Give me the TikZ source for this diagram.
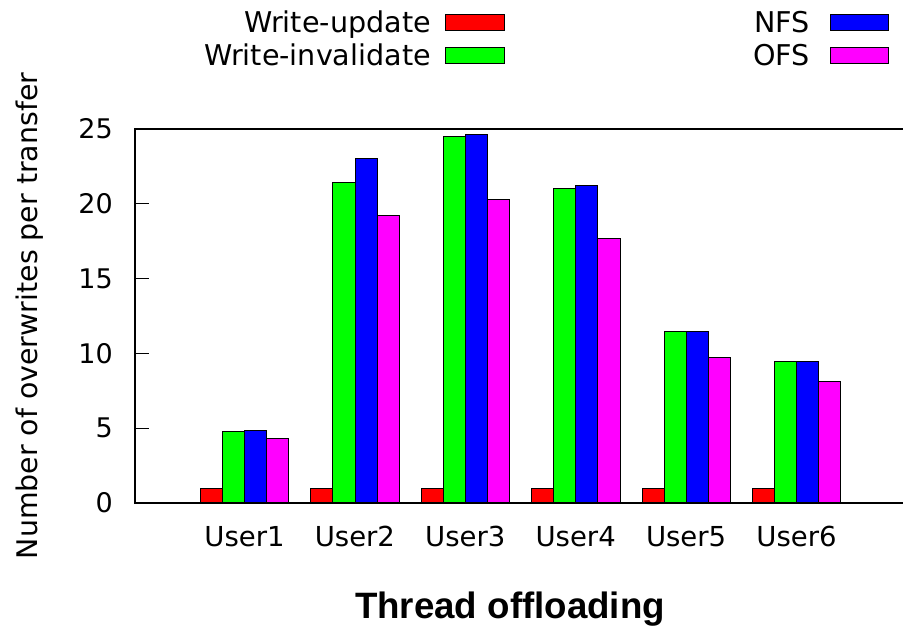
\documentclass[tikz,border=0pt]{standalone}
\usepackage{fontspec}
\setmainfont{DejaVu Sans}
\newfontfamily\titlefont{Liberation Sans}
\definecolor{gpred}{RGB}{255,0,0}
\definecolor{gpgreen}{RGB}{0,255,0}
\definecolor{gpblue}{RGB}{0,0,255}
\definecolor{gpmag}{RGB}{255,0,255}
\begin{document}
\begin{tikzpicture}[x=1pt,y=-1pt,
  lbl/.style={font=\fontsize{27}{32}\selectfont, inner sep=0pt, text=black},
  keylbl/.style={font=\fontsize{28.6}{34}\selectfont, inner sep=0pt, text=black},
  ulbl/.style={font=\fontsize{27.5}{33}\selectfont, inner sep=0pt, text=black},
  ylbl/.style={font=\fontsize{28.4}{34}\selectfont, inner sep=0pt, text=black},
  ttl/.style={font=\titlefont\bfseries\fontsize{36.7}{40}\selectfont, inner sep=0pt},
  bar/.style={draw=black, line width=1pt},
  axisline/.style={draw=black, line width=1.3pt},
  keybox/.style={draw=black, line width=1pt}]
\useasboundingbox (0,0) rectangle (903,631);
\fill[white] (0,0) rectangle (903,631);
% frame
\draw[axisline] (903,129) -- (135,129) -- (135,503) -- (903,503);
\foreach \v in {5,10,15,20} {
  \draw[axisline] (135,{503-14.96*\v}) -- (149,{503-14.96*\v});
}
% y tick labels
\foreach \v/\nm in {0/t0,5/t5,10/t10,15/t15,20/t20,25/t25} {
  \node[lbl, anchor=east] (\nm) at (113,{503-14.96*\v}) {\v};
}
% bars
\foreach \i/\a/\b/\c/\d in {0/1/4.8/4.84/4.31, 1/1/21.4/23.0/19.25, 2/1/24.53/24.6/20.31,
                            3/1/21.05/21.25/17.69, 4/1/11.49/11.49/9.71, 5/1/9.45/9.45/8.15} {
  \pgfmathsetmacro{\xo}{200.5+110.4*\i}
  \filldraw[bar, fill=gpred]   ({\xo},503) rectangle ({\xo+22.08},{503-14.96*\a});
  \filldraw[bar, fill=gpgreen] ({\xo+22.08},503) rectangle ({\xo+44.16},{503-14.96*\b});
  \filldraw[bar, fill=gpblue]  ({\xo+44.16},503) rectangle ({\xo+66.24},{503-14.96*\c});
  \filldraw[bar, fill=gpmag]   ({\xo+66.24},503) rectangle ({\xo+88.32},{503-14.96*\d});
}
\draw[axisline] (135,503) -- (903,503);
% x tick labels
\foreach \i in {0,...,5} {
  \pgfmathtruncatemacro{\n}{\i+1}
  \node[ulbl, anchor=base] (u\n) at ({244.5+110.4*\i},546.5) {User\n};
}
% axis titles
\node[ylbl, rotate=90, anchor=base] (ylab) at (37,316) {Number of overwrites per transfer};
\node[ttl, anchor=base] (xlab) at (510,618.3) {Thread offloading};
% legend
\node[keylbl, anchor=base east] (k1) at (431,33) {Write-update};
\node[keylbl, anchor=base east] (k2) at (431,66) {Write-invalidate};
\node[keylbl, anchor=base east] (k3) at (810,33) {NFS};
\node[keylbl, anchor=base east] (k4) at (810,66) {OFS};
\filldraw[keybox, fill=gpred]   (445,14.5) rectangle (504,31);
\filldraw[keybox, fill=gpgreen] (445,47.3) rectangle (504,63.8);
\filldraw[keybox, fill=gpblue]  (830,14.5) rectangle (888.5,31);
\filldraw[keybox, fill=gpmag]   (830,47.3) rectangle (888.5,63.8);
\end{tikzpicture}
\end{document}
